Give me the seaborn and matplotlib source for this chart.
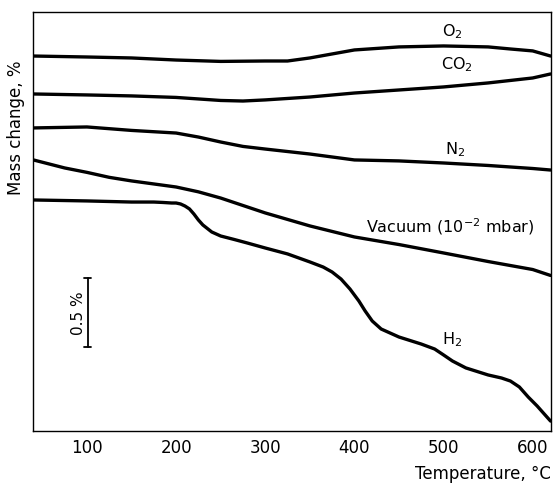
import numpy as np
import pandas as pd
import matplotlib
matplotlib.use("Agg")
import matplotlib.pyplot as plt
import seaborn as sns

# ---- data (temperature in °C, mass change in %, arbitrary offset per curve) ----
o2_T = [40, 100, 150, 200, 250, 300, 325, 350, 375, 400, 450, 500, 550, 575, 600, 620]
o2_m = [2.717, 2.710, 2.703, 2.688, 2.678, 2.681, 2.681, 2.703, 2.732, 2.761, 2.783, 2.790, 2.783, 2.768, 2.754, 2.717]

co2_T = [40, 100, 150, 200, 250, 275, 300, 350, 400, 450, 500, 550, 600, 620]
co2_m = [2.442, 2.435, 2.428, 2.417, 2.395, 2.391, 2.399, 2.420, 2.449, 2.471, 2.493, 2.522, 2.558, 2.587]

n2_T = [40, 100, 150, 200, 225, 250, 275, 300, 350, 400, 450, 500, 550, 600, 620]
n2_m = [2.196, 2.203, 2.178, 2.159, 2.130, 2.094, 2.062, 2.043, 2.007, 1.964, 1.957, 1.942, 1.924, 1.902, 1.891]

vac_T = [40, 75, 100, 125, 150, 175, 200, 225, 250, 300, 350, 400, 450, 500, 550, 600, 620]
vac_m = [1.964, 1.906, 1.874, 1.838, 1.812, 1.790, 1.768, 1.733, 1.688, 1.580, 1.486, 1.406, 1.351, 1.290, 1.228, 1.170, 1.127]

h2_T = [40, 100, 150, 175, 185, 195, 200, 205, 210, 215, 220, 225, 230, 240, 250, 265, 280,
        300, 325, 350, 365, 375, 385, 395, 405, 412, 420, 430, 450, 475, 490, 500, 510, 525,
        550, 565, 575, 585, 595, 605, 612, 620]
h2_m = [1.674, 1.667, 1.659, 1.659, 1.656, 1.652, 1.652, 1.645, 1.630, 1.609, 1.572, 1.529,
        1.493, 1.442, 1.413, 1.388, 1.362, 1.326, 1.283, 1.225, 1.188, 1.152, 1.101, 1.029,
        0.942, 0.870, 0.797, 0.739, 0.681, 0.630, 0.594, 0.551, 0.507, 0.457, 0.406, 0.384,
        0.362, 0.319, 0.246, 0.181, 0.130, 0.072]

labels = ["O$_2$", "CO$_2$", "N$_2$", "Vacuum (10$^{-2}$ mbar)", "H$_2$"]
label_T = [510, 515, 513, 507, 510]
label_m = [2.899, 2.659, 2.043, 1.486, 0.667]

x_ticks = [100, 200, 300, 400, 500, 600]
scale_bar = [0.609, 1.109]  # 0.5 % bar

series = [("O2", o2_T, o2_m), ("CO2", co2_T, co2_m), ("N2", n2_T, n2_m),
          ("Vacuum", vac_T, vac_m), ("H2", h2_T, h2_m)]
df = pd.concat([pd.DataFrame({"T": t, "m": m, "gas": g}) for g, t, m in series],
               ignore_index=True)

sns.set_theme(style="white")
plt.rcParams["font.family"] = ["DejaVu Sans"]

fig = plt.figure(figsize=(5.53, 4.85), dpi=100)
ax = fig.add_axes([33 / 553, 53 / 485, 518 / 553, 419 / 485])

sns.lineplot(data=df, x="T", y="m", hue="gas", units="gas", estimator=None,
             palette={g: "black" for g, _, _ in series}, linewidth=2.4,
             legend=False, ax=ax, sort=False)
for line in ax.get_lines():
    line.set_solid_joinstyle("round")
    line.set_solid_capstyle("round")

for lab, t, m in zip(labels, label_T, label_m):
    ax.text(t, m, lab, ha="center", va="center", fontsize=11.5, color="black")

# scale bar
ax.plot([101, 101], scale_bar, color="black", lw=1.3)
for yy in scale_bar:
    ax.plot([97, 105], [yy, yy], color="black", lw=1.3)
ax.text(90, np.mean(scale_bar), "0.5 %", rotation=90, ha="center", va="center",
        fontsize=11, color="black")

ax.set_xlim(39.5, 620.5)
ax.set_ylim(0, 3.036)
ax.set_xticks(x_ticks)
ax.set_xticklabels([str(v) for v in x_ticks], fontsize=12)
ax.set_yticks([])
ax.tick_params(axis="x", direction="in", length=10, width=1.0, colors="black",
               pad=5, labelcolor="black")
for s in ax.spines.values():
    s.set_visible(True)
    s.set_color("black")
    s.set_linewidth(1.0)

ax.set_xlabel("Temperature, °C", loc="right", fontsize=12, color="black", labelpad=6)
ax.set_ylabel("Mass change, %", fontsize=12, color="black", y=0.726, labelpad=6)

fig.savefig("out.png", dpi=100, facecolor="white")
